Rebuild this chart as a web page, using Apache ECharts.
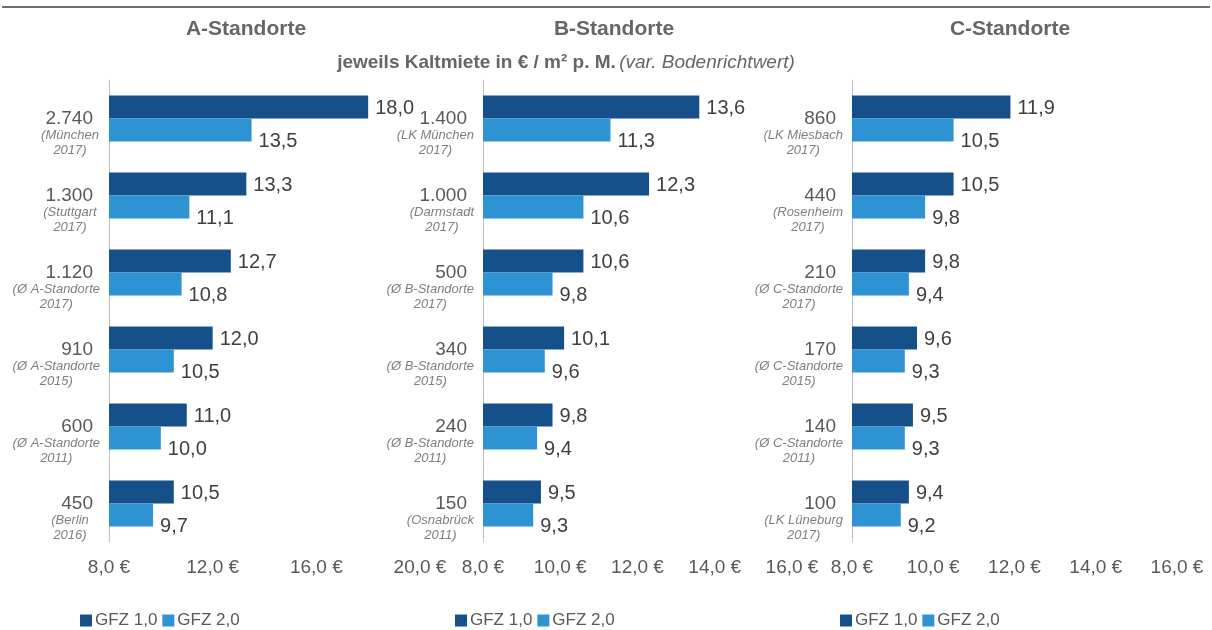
<!DOCTYPE html>
<html>
<head>
<meta charset="utf-8">
<title>Kaltmiete nach Standorten</title>
<script src="https://cdn.jsdelivr.net/npm/echarts@6/dist/echarts.min.js"></script>
<style>
  html, body { margin: 0; padding: 0; background: #fff; }
  #chart { width: 1212px; height: 630px; }
</style>
</head>
<body>
<div id="chart"></div>
<script>
// Bodenrichtwert (Kategorie), Ort, Jahr
const landA = ['2.740', '1.300', '1.120', '910', '600', '450'];
const ortA = ['München', 'Stuttgart', 'Ø A-Standorte', 'Ø A-Standorte', 'Ø A-Standorte', 'Berlin'];
const jahrA = ['2017', '2017', '2017', '2015', '2011', '2016'];
const gfz1A = [18.0, 13.3, 12.7, 12.0, 11.0, 10.5];
const gfz2A = [13.5, 11.1, 10.8, 10.5, 10.0, 9.7];

const landB = ['1.400', '1.000', '500', '340', '240', '150'];
const ortB = ['LK München', 'Darmstadt', 'Ø B-Standorte', 'Ø B-Standorte', 'Ø B-Standorte', 'Osnabrück'];
const jahrB = ['2017', '2017', '2017', '2015', '2011', '2011'];
const gfz1B = [13.6, 12.3, 10.6, 10.1, 9.8, 9.5];
const gfz2B = [11.3, 10.6, 9.8, 9.6, 9.4, 9.3];

const landC = ['860', '440', '210', '170', '140', '100'];
const ortC = ['LK Miesbach', 'Rosenheim', 'Ø C-Standorte', 'Ø C-Standorte', 'Ø C-Standorte', 'LK Lüneburg'];
const jahrC = ['2017', '2017', '2017', '2015', '2011', '2017'];
const gfz1C = [11.9, 10.5, 9.8, 9.6, 9.5, 9.4];
const gfz2C = [10.5, 9.8, 9.4, 9.3, 9.3, 9.2];

const panelTitles = ['A-Standorte', 'B-Standorte', 'C-Standorte'];
const legendNames = ['GFZ 1,0', 'GFZ 2,0'];

const DARK = '#16508b';
const LIGHT = '#2e93d3';
const FONT = '"Liberation Sans", Arial, sans-serif';

const chart = echarts.init(document.getElementById('chart'));

const komma = v => v.toFixed(1).replace('.', ',');

function catLabel(orte, jahre) {
  return (value, idx) =>
    '{n|' + value + '}{s| }\n{i|(' + orte[idx] + '}\n{i|' + jahre[idx] + ')}';
}

const grids = [
  { left: 109, width: 311, top: 80, height: 462 },
  { left: 483, width: 309, top: 80, height: 462 },
  { left: 852, width: 325, top: 80, height: 462 }
];

function xAxisDef(idx, max, interval) {
  return {
    type: 'value',
    gridIndex: idx,
    min: 8,
    max: max,
    interval: interval,
    axisLine: { show: false },
    axisTick: { show: false },
    splitLine: { show: false },
    axisLabel: {
      margin: 16,
      color: '#595959',
      fontFamily: FONT,
      fontSize: 19,
      formatter: v => komma(v) + ' €'
    }
  };
}

function yAxisDef(idx, land, orte, jahre) {
  return {
    type: 'category',
    gridIndex: idx,
    inverse: true,
    data: land,
    axisLine: { lineStyle: { color: '#bfbfbf', width: 1 } },
    axisTick: { length: 5, lineStyle: { color: '#bfbfbf' } },
    axisLabel: {
      margin: 9,
      padding: [31, 0, 0, 0],
      formatter: catLabel(orte, jahre),
      rich: {
        n: { align: 'right', fontSize: 19, lineHeight: 18, color: '#595959', fontFamily: FONT, width: 53 },
        s: { align: 'right', width: 7, fontSize: 10, lineHeight: 18 },
        i: { align: 'center', fontSize: 13, lineHeight: 15, fontStyle: 'italic', color: '#7f7f7f', fontFamily: FONT }
      }
    }
  };
}

function barSeries(name, idx, data, color, offsetY) {
  return {
    name: name,
    type: 'bar',
    xAxisIndex: idx,
    yAxisIndex: idx,
    data: data,
    barWidth: 23,
    barGap: '0%',
    itemStyle: { color: color },
    label: {
      show: true,
      position: 'right',
      distance: 7,
      offset: [0, offsetY],
      color: '#404040',
      fontFamily: FONT,
      fontSize: 20,
      formatter: p => komma(p.value)
    }
  };
}

function legendDef(left) {
  return {
    data: legendNames,
    left: left,
    top: 612,
    padding: 0,
    icon: 'rect',
    itemWidth: 12,
    itemHeight: 12,
    itemGap: 5,
    selectedMode: false,
    textStyle: { color: '#595959', fontFamily: FONT, fontSize: 17, padding: [0, 0, 0, -2] }
  };
}

chart.setOption({
  backgroundColor: '#ffffff',
  animation: false,
  grid: grids,
  xAxis: [xAxisDef(0, 20, 4), xAxisDef(1, 16, 2), xAxisDef(2, 16, 2)],
  yAxis: [
    yAxisDef(0, landA, ortA, jahrA),
    yAxisDef(1, landB, ortB, jahrB),
    yAxisDef(2, landC, ortC, jahrC)
  ],
  legend: [legendDef(80), legendDef(455), legendDef(840)],
  series: [
    barSeries(legendNames[0], 0, gfz1A, DARK, 1),
    barSeries(legendNames[1], 0, gfz2A, LIGHT, 11),
    barSeries(legendNames[0], 1, gfz1B, DARK, 1),
    barSeries(legendNames[1], 1, gfz2B, LIGHT, 11),
    barSeries(legendNames[0], 2, gfz1C, DARK, 1),
    barSeries(legendNames[1], 2, gfz2C, LIGHT, 11)
  ],
  graphic: [
    {
      type: 'rect',
      shape: { x: 2, y: 6, width: 1208, height: 2 },
      style: { fill: '#6b7077' }
    },
    {
      type: 'text', x: 246, y: 29,
      style: { text: panelTitles[0], align: 'center', verticalAlign: 'middle', fill: '#666666', fontSize: 21, fontWeight: 'bold', fontFamily: FONT }
    },
    {
      type: 'text', x: 614, y: 29,
      style: { text: panelTitles[1], align: 'center', verticalAlign: 'middle', fill: '#666666', fontSize: 21, fontWeight: 'bold', fontFamily: FONT }
    },
    {
      type: 'text', x: 1010, y: 29,
      style: { text: panelTitles[2], align: 'center', verticalAlign: 'middle', fill: '#666666', fontSize: 21, fontWeight: 'bold', fontFamily: FONT }
    },
    {
      type: 'text', x: 566, y: 63,
      style: {
        text: '{b|jeweils Kaltmiete in € / m² p. M.} {it|(var. Bodenrichtwert)}',
        align: 'center',
        verticalAlign: 'middle',
        rich: {
          b: { fontSize: 19, fontWeight: 'bold', fill: '#666666', fontFamily: FONT },
          it: { fontSize: 19, fontStyle: 'italic', fill: '#666666', fontFamily: FONT }
        }
      }
    }
  ]
});
</script>
</body>
</html>
